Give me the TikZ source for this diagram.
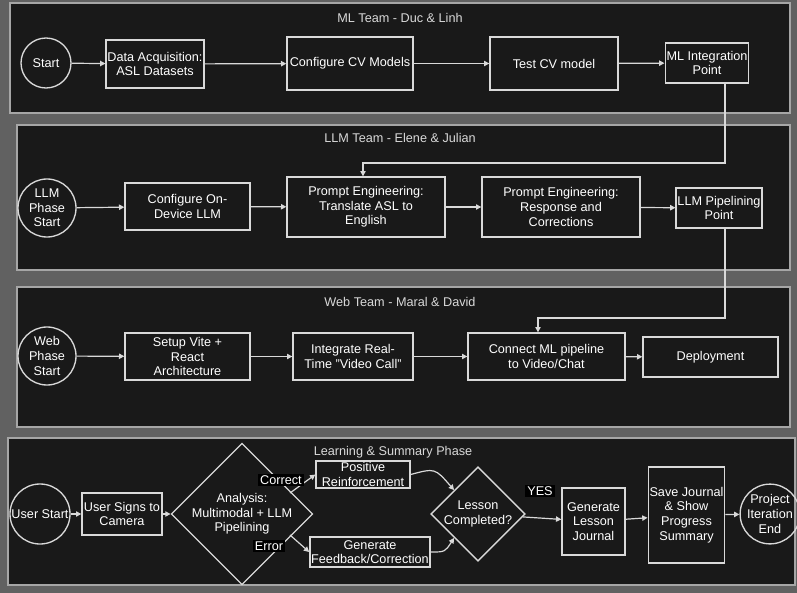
\documentclass[tikz,border=0pt]{standalone}
\usepackage{fontspec}
\setmainfont{Liberation Sans}
\usetikzlibrary{shapes.geometric,arrows.meta}
\begin{document}
\begin{tikzpicture}[x=0.75pt,y=-0.75pt,
  font=\fontsize{9.5}{11}\selectfont, text=white,
  w/.style={minimum width=#1*0.75pt}, h/.style={minimum height=#1*0.75pt},
  sz/.style={minimum size=#1*0.75pt},
  panel/.style={draw=gray!70, line width=0.8pt, fill=black!90},
  box/.style={draw=white!85!black, line width=1pt, align=center, inner sep=1pt},
  circ/.style={draw=white!85!black, circle, line width=1pt, align=center, inner sep=0pt},
  dia/.style={draw=white!85!black, diamond, line width=1pt, align=center, inner sep=0pt, shape aspect=1},
  arr/.style={draw=white!85!black, line width=0.9pt, -{Triangle[length=4pt,width=4pt]}},
  lab/.style={fill=black, text=white, inner sep=1.5pt},
  ttl/.style={text=white!85!black}]
\fill[black!62] (0,0) rectangle (797,593);
\useasboundingbox (0,0) rectangle (797,593);
% panels
\draw[panel] (10,3) rectangle (790,113);
\draw[panel] (17,125) rectangle (790,270);
\draw[panel] (17,287) rectangle (790,427);
\draw[panel] (8,438) rectangle (795,585);
% panel 1
\node[ttl] (t1) at (400,18) {ML Team - Duc \& Linh};
\node[circ, sz=50] (s1) at (46,63) {Start};
\node[box, w=90, h=48] (a1) at (155,64) {Data Acquisition:\\ASL Datasets};
\node[box, w=126, h=53] (a2) at (350,63.5) {Configure CV Models};
\node[box, w=128, h=53] (a3) at (554,63.5) {Test CV model};
\node[box, w=75, h=40] (a4) at (707,63) {ML Integration\\Point};
\draw[arr] (s1) -- (a1);
\draw[arr] (a1) -- (a2);
\draw[arr] (a2) -- (a3);
\draw[arr] (a3) -- (a4);
% panel 2
\node[ttl] (t2) at (400,138) {LLM Team - Elene \& Julian};
\node[circ, sz=58] (s2) at (47,208) {LLM\\Phase\\Start};
\node[box, w=125, h=47] (b1) at (187.5,206.5) {Configure On-\\Device LLM};
\node[box, w=158, h=60] (b2) at (366,207) {Prompt Engineering:\\Translate ASL to\\English};
\node[box, w=158, h=60] (b3) at (561,207) {Prompt Engineering:\\Response and\\Corrections};
\node[box, w=78, h=40] (b4) at (719,208) {LLM Pipelining\\Point};
\draw[arr] (s2) -- (b1);
\draw[arr] (b1) -- (b2);
\draw[arr] (b2) -- (b3);
\draw[arr] (b3) -- (b4);
\coordinate (c1) at (725,163);
\coordinate (c2) at (363,163);
\draw[arr] (a4.south -| c1) -- (c1) -- (c2) -- (c2 |- b2.north);
% panel 3
\node[ttl] (t3) at (400,302) {Web Team - Maral \& David};
\node[circ, sz=58] (s3) at (47,356) {Web\\Phase\\Start};
\node[box, w=125, h=47] (w1) at (187.5,356.5) {Setup Vite +\\React\\Architecture};
\node[box, w=120, h=47] (w2) at (353,356.5) {Integrate Real-\\Time "Video Call"};
\node[box, w=157, h=47] (w3) at (546.5,356.5) {Connect ML pipeline\\to Video/Chat};
\node[box, w=135, h=40] (w4) at (710.5,357) {Deployment};
\draw[arr] (s3) -- (w1);
\draw[arr] (w1) -- (w2);
\draw[arr] (w2) -- (w3);
\draw[arr] (w3) -- (w4);
\coordinate (d1) at (725,318);
\coordinate (d2) at (538,318);
\draw[arr] (b4.south -| d1) -- (d1) -- (d2) -- (d2 |- w3.north);
% panel 4
\node[ttl] (t4) at (393,452) {Learning \& Summary Phase};
\node[circ, sz=60] (u1) at (40,514) {User Start};
\node[box, w=80, h=42] (u2) at (122,514) {User Signs to\\Camera};
\node[dia, w=128, h=136] (u3) at (242,514) {Analysis:\\Multimodal + LLM\\Pipelining};
\node[box, w=94, h=27] (u4) at (363,474.5) {Positive\\Reinforcement};
\node[box, w=120, h=30] (u5) at (370,552) {Generate\\Feedback/Correction};
\node[dia, w=94, h=90] (u6) at (478,514) {Lesson\\Completed?};
\node[box, w=63, h=67] (u7) at (593.5,521.5) {Generate\\Lesson\\Journal};
\node[box, w=73, h=96] (u8) at (686.5,515) {Save Journal\\\& Show\\Progress\\Summary};
\node[circ, sz=56] (u9) at (770,514) {Project\\Iteration\\End};
\draw[arr] (u1) -- (u2);
\draw[arr] (u2) -- (u3);
\coordinate (k1) at (290,493);
\coordinate (k2) at (290,535);
\draw[arr] (k1) -- (u4.west);
\draw[arr] (k2) -- (u5.west);
\draw[arr] (u4.east) .. controls (435,468) .. (u6.north west);
\draw[arr] (u5.east) .. controls (445,552) .. (u6.south west);
\draw[arr] (u6) -- (u7);
\draw[arr] (u7) -- (u8);
\draw[arr] (u8) -- (u9);
\node[lab] (l1) at (281,480) {Correct};
\node[lab] (l2) at (269,546) {Error};
\node[lab] (l3) at (540,491) {YES};
\end{tikzpicture}
\end{document}
